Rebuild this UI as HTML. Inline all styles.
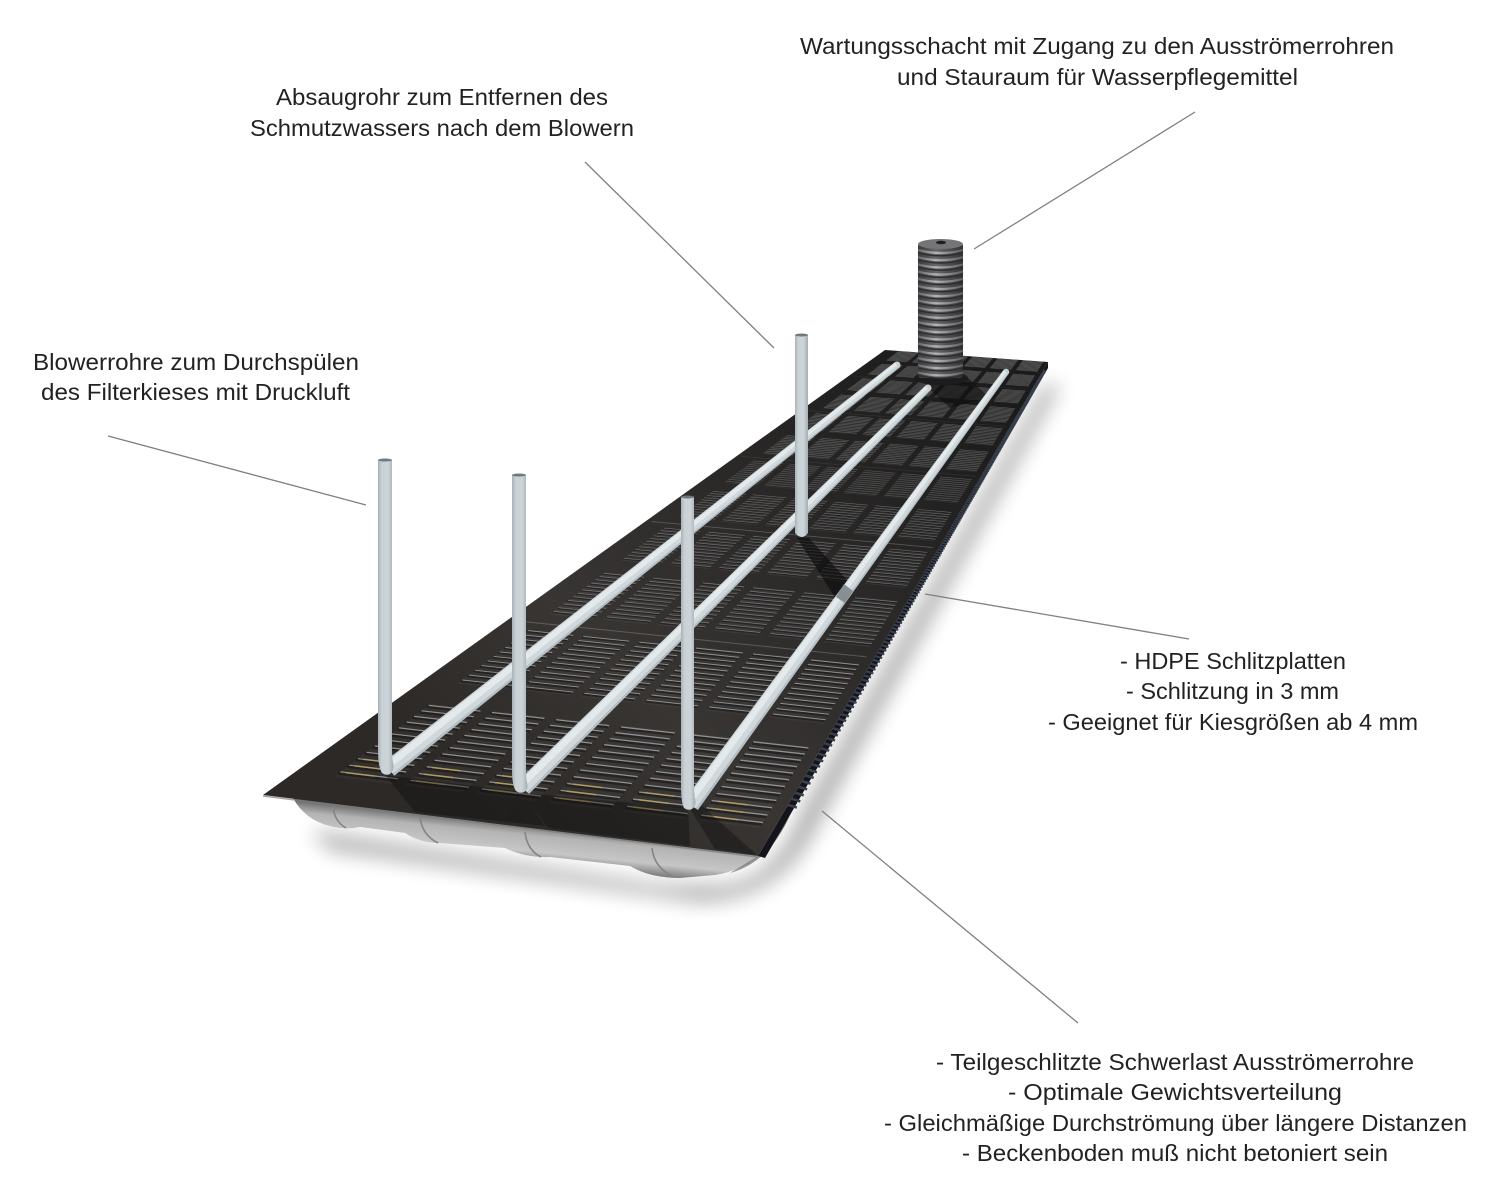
<!DOCTYPE html>
<html><head><meta charset="utf-8"><style>
html,body{margin:0;padding:0;background:#fff}
svg{display:block}
text{font-family:"Liberation Sans",sans-serif;font-size:23px;fill:#222}
</style></head><body>
<svg id="s" xmlns="http://www.w3.org/2000/svg" width="1500" height="1199" viewBox="0 0 1500 1199">
<defs>
<filter id="b12" x="-30%" y="-30%" width="160%" height="160%"><feGaussianBlur stdDeviation="10"/></filter>
<linearGradient id="tray" gradientUnits="userSpaceOnUse" x1="520" y1="822" x2="516" y2="862"><stop offset="0" stop-color="#666"/><stop offset="0.3" stop-color="#b4b4b4"/><stop offset="0.7" stop-color="#c6c6c6"/><stop offset="1" stop-color="#7c7c7c"/></linearGradient>
<linearGradient id="plate" gradientUnits="userSpaceOnUse" x1="500" y1="830" x2="960" y2="350"><stop offset="0" stop-color="#2c2927"/><stop offset="0.3" stop-color="#383533"/><stop offset="0.6" stop-color="#2c2a29"/><stop offset="1" stop-color="#1b1b1b"/></linearGradient>
<linearGradient id="vp" x1="0" x2="1" y1="0" y2="0"><stop offset="0" stop-color="#a7b1b7"/><stop offset="0.25" stop-color="#cad2d6"/><stop offset="0.65" stop-color="#ccd4d8"/><stop offset="1" stop-color="#a3aeb4"/></linearGradient>
<linearGradient id="shaft" x1="0" x2="1" y1="0" y2="0"><stop offset="0" stop-color="#3a3a3c"/><stop offset="0.4" stop-color="#66666a"/><stop offset="1" stop-color="#333335"/></linearGradient>
<linearGradient id="shaftL" x1="0" x2="1" y1="0" y2="0"><stop offset="0" stop-color="#666668"/><stop offset="0.4" stop-color="#b4b4b6"/><stop offset="1" stop-color="#5e5e60"/></linearGradient>
</defs>
<rect width="1500" height="1199" fill="#fff"/>

<!-- shadows -->
<path d="M310,830 L660,885 L725,885 Q775,878 800,815 L1045,385 L1060,385 L815,830 Q780,900 700,902 L330,850 Z" fill="#000" opacity=".32" filter="url(#b12)"/>

<!-- tray -->
<path d="M293,798 Q305,820 330,826 Q345,830 360,827 L405,833 Q420,843 440,843 L505,848 Q525,858 550,857 L630,866 Q650,878 680,878 L715,875 Q760,868 785,825 L800,792 L758,856 Z" fill="url(#tray)"/>
<g fill="none" stroke="#858585" stroke-width="1.6">
<path d="M333,806 Q334,821 346,828"/><path d="M420,817 Q422,835 438,843"/><path d="M525,832 Q527,850 541,857"/><path d="M652,848 Q654,868 674,877"/>
</g>
<path d="M730,873 Q770,862 790,815 L797,800 L765,852 Z" fill="#6d6d6d" opacity=".7"/>

<!-- right side edge and teeth -->
<polygon points="1048,362 1048,368 797,803 765,858 758,856" fill="#14141a"/>
<g id="teeth"></g>

<!-- plate -->
<polygon points="263,795 758,856 1048,362 885,350" fill="url(#plate)"/>
<path d="M263,796 L758,857" stroke="#7c7c7c" stroke-width="1.4" opacity=".7"/>
<g id="slots"></g>

<!-- foot shadows -->
<g fill="#0c0c0c" opacity=".38">
<polygon points="385,775 415,812 545,826 522,792"/>
<polygon points="522,793 548,828 690,846 688,808"/>
<polygon points="690,809 715,849 757,855 702,806"/>
</g>
<polygon points="797,538 809,538 856,590 838,602" fill="#0a0a0a" opacity=".6"/>
<polygon points="925,385 950,408 990,398 965,375" fill="#0c0c0c" opacity=".55"/>

<!-- horizontal pipes -->
<g id="pipes"></g>
<polygon points="836,597 844,584 853,591 845,603" fill="#888f93"/>

<!-- shaft -->
<ellipse cx="941" cy="378" rx="27" ry="7" fill="#1c1c1c"/>
<rect x="918" y="243" width="45" height="135" rx="3" fill="url(#shaft)"/>
<g id="rings"></g>
<ellipse cx="940.500" cy="244" rx="22.500" ry="5" fill="#757575"/>
<ellipse cx="941" cy="242.500" rx="5" ry="1.800" fill="#1e1e1e"/>

<!-- vertical pipes -->
<g fill="url(#vp)">
<path d="M378,460 H392 V750 Q392,757 393,762 Q395,770 390,774 Q386,776 382,773 Q378,767 378,750 Z"/>
<path d="M512,475 H526 V770 Q526,777 527,782 Q529,790 524,792 Q520,794 516,791 Q512,786 512,770 Z"/>
<path d="M681,497 H694 V785 Q694,792 695,798 Q697,806 692,809 Q688,811 684,808 Q681,803 681,785 Z"/>
<path d="M795,335 H808 V533 Q802,541 795,533 Z"/>
</g>
<g fill="#6f7a80"><ellipse cx="385" cy="460" rx="7" ry="1.500"/><ellipse cx="519" cy="475" rx="7" ry="1.500"/><ellipse cx="687.500" cy="497" rx="6.500" ry="1.500"/><ellipse cx="801.500" cy="335" rx="6.500" ry="1.500"/></g>

<!-- callouts -->
<g stroke="#808080" stroke-width="1.300" fill="none">
<line x1="108" y1="436" x2="366" y2="505"/>
<line x1="585" y1="162" x2="774" y2="348"/>
<line x1="1195" y1="112" x2="974" y2="249"/>
<line x1="925" y1="594" x2="1189" y2="639"/>
<line x1="822" y1="811" x2="1078" y2="1023"/>
</g>

<!-- labels -->
<text x="800" y="54" textLength="594" lengthAdjust="spacingAndGlyphs">Wartungsschacht mit Zugang zu den Ausströmerrohren</text>
<text x="897" y="85" textLength="401" lengthAdjust="spacingAndGlyphs">und Stauraum für Wasserpflegemittel</text>
<text x="276" y="105" textLength="332" lengthAdjust="spacingAndGlyphs">Absaugrohr zum Entfernen des</text>
<text x="250" y="136" textLength="384" lengthAdjust="spacingAndGlyphs">Schmutzwassers nach dem Blowern</text>
<text x="33" y="370" textLength="326" lengthAdjust="spacingAndGlyphs">Blowerrohre zum Durchspülen</text>
<text x="41" y="400" textLength="309" lengthAdjust="spacingAndGlyphs">des Filterkieses mit Druckluft</text>
<text x="1120" y="669" textLength="226" lengthAdjust="spacingAndGlyphs">- HDPE Schlitzplatten</text>
<text x="1126" y="699" textLength="213" lengthAdjust="spacingAndGlyphs">- Schlitzung in 3 mm</text>
<text x="1048" y="730" textLength="370" lengthAdjust="spacingAndGlyphs">- Geeignet für Kiesgrößen ab 4 mm</text>
<text x="936" y="1070" textLength="478" lengthAdjust="spacingAndGlyphs">- Teilgeschlitzte Schwerlast Ausströmerrohre</text>
<text x="1008" y="1100" textLength="334" lengthAdjust="spacingAndGlyphs">- Optimale Gewichtsverteilung</text>
<text x="884" y="1131" textLength="583" lengthAdjust="spacingAndGlyphs">- Gleichmäßige Durchströmung über längere Distanzen</text>
<text x="962" y="1161" textLength="426" lengthAdjust="spacingAndGlyphs">- Beckenboden muß nicht betoniert sein</text>
</svg>
<script>
(function(){
var NS="http://www.w3.org/2000/svg";
var q=[[263,795],[758,856],[1048,362],[885,350]];
var x0=q[0][0],y0=q[0][1],x1=q[1][0],y1=q[1][1],x2=q[2][0],y2=q[2][1],x3=q[3][0],y3=q[3][1];
var dx1=x1-x2,dx2=x3-x2,sx=x0-x1+x2-x3,dy1=y1-y2,dy2=y3-y2,sy=y0-y1+y2-y3;
var den=dx1*dy2-dx2*dy1,g=(sx*dy2-dx2*sy)/den,h=(dx1*sy-sx*dy1)/den;
var a=x1-x0+g*x1,b=x3-x0+h*x3,d=y1-y0+g*y1,e=y3-y0+h*y3;
function P(u,v){var w=g*u+h*v+1;return [(a*u+b*v+x0)/w,(d*u+e*v+y0)/w];}
function add(p,t,at){var el=document.createElementNS(NS,t);for(var k in at)el.setAttribute(k,at[k]);p.appendChild(el);}
function F(p){return p[0].toFixed(1)+" "+p[1].toFixed(1);}
var G=document.getElementById("slots");
var cols=6,rows=12,n=12;
for(var r=0;r<rows;r++){
 var v0=0.017+0.0835*r,v1=v0+0.063;
 for(var c=0;c<cols;c++){
  var u0=0.085+0.1525*c,u1=u0+0.125;
  var A=P(u0,v0),B=P(u1,v0),C=P(u1,v1),D=P(u0,v1);
  var ht=Math.abs(D[1]-A[1]);
  add(G,"polygon",{points:[A,B,C,D].map(function(p){return p[0].toFixed(1)+","+p[1].toFixed(1)}).join(" "),fill:"#777",opacity:r<2?0.1:(r<6?0.18:0.25)});
  var dark="",light="",yel="";
  for(var i=0;i<n;i++){
   var v=v0+(v1-v0)*(i+0.5)/n;
   dark+="M"+F(P(u0,v))+"L"+F(P(u1,v));
   light+="M"+F(P(u0,v+0.0012))+"L"+F(P(u1,v+0.0012));
   if(r==0&&i<3)yel+="M"+F(P(u0+0.012,v+0.0012))+"L"+F(P(u0+0.075,v+0.0012));
  }
  var st=ht/n;
  add(G,"path",{d:dark,stroke:"#151515",fill:"none","stroke-width":Math.max(0.5,st*0.45).toFixed(2),opacity:.6});
  add(G,"path",{d:light,stroke:"#b0b0b0",fill:"none","stroke-width":Math.max(0.4,st*0.2).toFixed(2),opacity:r<2?.75:(r<5?.55:.5)});
  if(yel)add(G,"path",{d:yel,stroke:"#b39c5c",fill:"none","stroke-width":1.5,opacity:.9});
 }
}
for(var s=2;s<12;s+=2){
 var v=0.0835*s+0.005;
 add(G,"path",{d:"M"+F(P(0.02,v))+"L"+F(P(0.98,v)),stroke:"#9a9a9a","stroke-width":Math.max(.4,1.2-s*.08),opacity:s<6?.4:.15,fill:"none"});
}
/* side teeth */
var T=document.getElementById("teeth");
for(var v=0.03;v<0.95;v+=0.0045){
 var p=P(1,v),w=g+h*v+1,L=9/w;
 if(p[1]>805)continue;
 add(T,"line",{x1:p[0].toFixed(1),y1:p[1].toFixed(1),x2:(p[0]+L).toFixed(1),y2:(p[1]+L*0.3).toFixed(1),stroke:"#39404f","stroke-width":(2.4/w+.3).toFixed(2)});
}
/* tapered pipes */
var Pp=document.getElementById("pipes");
function pipe(ax,ay,aw,bx,by,bw){
 var dx=bx-ax,dy=by-ay,l=Math.sqrt(dx*dx+dy*dy),nx=-dy/l,ny=dx/l;
 function band(o0,o1,c){
  var pts=[[ax+nx*aw*o0,ay+ny*aw*o0],[bx+nx*bw*o0,by+ny*bw*o0],[bx+nx*bw*o1,by+ny*bw*o1],[ax+nx*aw*o1,ay+ny*aw*o1]];
  add(Pp,"polygon",{points:pts.map(function(p){return p[0].toFixed(1)+","+p[1].toFixed(1)}).join(" "),fill:c});
 }
 add(Pp,"circle",{cx:bx,cy:by,r:bw/2,fill:"#c6d0d5"});
 band(-0.5,0.5,"#b4bec3");
 band(-0.48,0.34,"#d0d8dc");
 band(-0.4,0.0,"#e4e9ec");
}
pipe(389,769,17,897,365,7);
pipe(523,788,17,928,388,7);
pipe(691,805,17,1006,372,6.500);
/* shaft rings */
var R=document.getElementById("rings");
for(var y=250;y<376;y+=7.2){
 add(R,"path",{d:"M918 "+y+"Q941 "+(y+6)+" 963 "+y,stroke:"url(#shaftL)","stroke-width":2.2,fill:"none"});
 add(R,"path",{d:"M918 "+(y+2.8)+"Q941 "+(y+8.8)+" 963 "+(y+2.8),stroke:"#2d2d2f","stroke-width":1.4,fill:"none"});
}
})();
</script>
</body></html>
